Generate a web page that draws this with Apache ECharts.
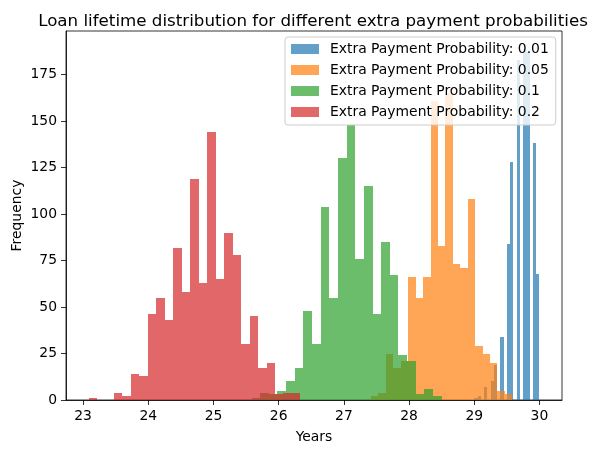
<!DOCTYPE html>
<html>
<head>
<meta charset="utf-8">
<script src="https://cdn.jsdelivr.net/npm/echarts@6/dist/echarts.min.js"></script>
<style>
  html, body { margin: 0; padding: 0; background: #fff; }
  #chart { width: 599px; height: 453px; }
</style>
</head>
<body>
<div id="chart"></div>
<script>
// histogram data: first bin edge, bin width (years), counts
const seriesNames = [
  'Extra Payment Probability: 0.01',
  'Extra Payment Probability: 0.05',
  'Extra Payment Probability: 0.1',
  'Extra Payment Probability: 0.2'
];
const binStart = [29.0, 27.4167, 25.5833, 23.0833];
const binWidth = [0.05, 0.11404, 0.13258, 0.13];
const counts001 = [1, 2, 0, 7, 0, 10, 19, 0, 34, 0, 84, 128, 0, 183, 0, 189, 187, 0, 138, 68];
const counts005 = [2, 4, 25, 17, 21, 66, 55, 66, 161, 83, 165, 73, 71, 108, 29, 25, 20, 5, 3];
const counts01 = [1, 4, 3, 5, 10, 17, 48, 30, 104, 55, 130, 148, 76, 115, 46, 85, 67, 24, 21, 3, 6, 2];
const counts02 = [1, 0, 0, 4, 2, 14, 13, 46, 55, 43, 82, 58, 119, 63, 144, 65, 90, 78, 30, 45, 17, 20, 3, 4, 4];
const xTicks = [23, 24, 25, 26, 27, 28, 29, 30];
const yTicks = [0, 25, 50, 75, 100, 125, 150, 175];

const allCounts = [counts001, counts005, counts01, counts02];
const colors = ['rgba(31,119,180,0.7)', 'rgba(255,127,14,0.7)', 'rgba(44,160,44,0.7)', 'rgba(214,39,40,0.7)'];
const font = 'DejaVu Sans';

// bins -> [left edge, right edge, count]
function toBins(i) {
  return allCounts[i].map((c, k) => [binStart[i] + k * binWidth[i], binStart[i] + (k + 1) * binWidth[i], c]);
}

// matplotlib style limits: 5% margin around data
const xLo = binStart[3], xHi = binStart[0] + binWidth[0] * counts001.length;
const xPad = (xHi - xLo) * 0.05;
const yMax = Math.max(...allCounts.map(a => Math.max(...a))) * 1.05;

// snap to whole pixels so neighbouring bars do not leave seams
function renderBin(params, api) {
  const p0 = api.coord([api.value(0), api.value(2)]);
  const p1 = api.coord([api.value(1), 0]);
  const x0 = Math.round(p0[0]), x1 = Math.round(p1[0]);
  const y0 = Math.round(p0[1]), y1 = Math.round(p1[1]);
  return {
    type: 'rect',
    shape: { x: x0, y: y0, width: x1 - x0, height: y1 - y0 },
    style: { fill: api.visual('color') }
  };
}

const option = {
  animation: false,
  title: {
    text: 'Loan lifetime distribution for different extra payment probabilities',
    left: 308,
    textAlign: 'center',
    top: 8,
    textStyle: { fontFamily: font, fontSize: 16.7, fontWeight: 'normal', color: '#000' }
  },
  grid: {
    left: 66, right: 37, top: 31, bottom: 53,
    show: true, borderColor: '#000', borderWidth: 0.8,
    containLabel: false, outerBoundsMode: 'none'
  },
  legend: {
    orient: 'vertical',
    left: 285, top: 37,
    padding: [5, 7, 6, 6],
    itemWidth: 28, itemHeight: 10, itemGap: 7,
    icon: 'rect',
    backgroundColor: 'rgba(255,255,255,0.8)',
    borderColor: '#cccccc', borderWidth: 1, borderRadius: 3,
    textStyle: { fontFamily: font, fontSize: 13.9, color: '#000', lineHeight: 14, padding: [0, 0, 0, 6] },
    data: seriesNames
  },
  xAxis: {
    type: 'value',
    min: xLo - xPad, max: xHi + xPad,
    name: 'Years', nameLocation: 'middle', nameGap: 30,
    nameTextStyle: { fontFamily: font, fontSize: 13.9, color: '#000' },
    axisLine: { show: true, lineStyle: { color: '#000', width: 0.8 } },
    axisTick: { show: true, length: 5, lineStyle: { color: '#000', width: 0.8 }, customValues: xTicks },
    axisLabel: { fontFamily: font, fontSize: 13.9, color: '#000', margin: 9, customValues: xTicks },
    splitLine: { show: false }
  },
  yAxis: {
    type: 'value',
    min: 0, max: yMax,
    name: 'Frequency', nameLocation: 'middle', nameGap: 42, nameMoveOverlap: false,
    nameTextStyle: { fontFamily: font, fontSize: 13.9, color: '#000' },
    axisLine: { show: true, lineStyle: { color: '#000', width: 0.8 } },
    axisTick: { show: true, length: 5, lineStyle: { color: '#000', width: 0.8 }, customValues: yTicks },
    axisLabel: { fontFamily: font, fontSize: 13.9, color: '#000', margin: 9, customValues: yTicks },
    splitLine: { show: false }
  },
  series: seriesNames.map((name, i) => ({
    name: name,
    type: 'custom',
    renderItem: renderBin,
    color: colors[i],
    itemStyle: { color: colors[i] },
    encode: { x: [0, 1], y: 2 },
    clip: true,
    data: toBins(i)
  }))
};

const chart = echarts.init(document.getElementById('chart'));
chart.setOption(option);
</script>
</body>
</html>
